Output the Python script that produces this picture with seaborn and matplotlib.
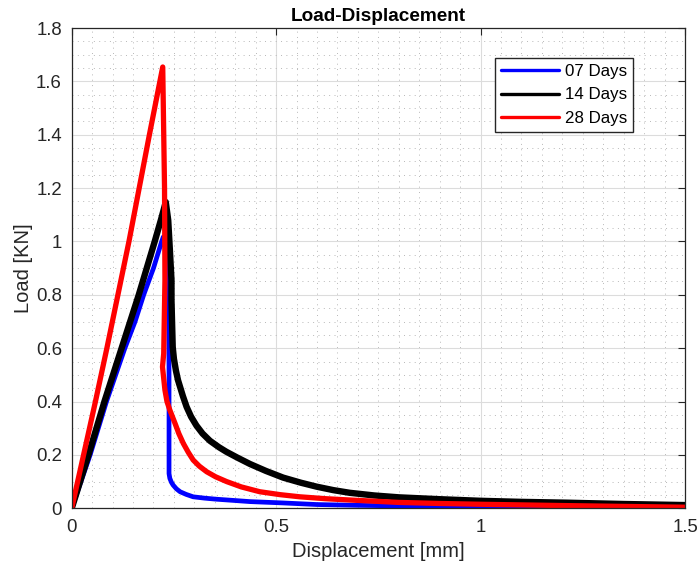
import numpy as np
import pandas as pd
import matplotlib
matplotlib.use("Agg")
import matplotlib.pyplot as plt
from matplotlib.ticker import MultipleLocator, FixedLocator
import seaborn as sns

# ---- data ----
series_names = ["07 Days", "14 Days", "28 Days"]
series_colors = ["#0000FF", "#000000", "#FF0000"]

disp_07 = [0, 0.045, 0.085, 0.13, 0.155, 0.176, 0.2, 0.22, 0.224, 0.232, 0.237, 0.238, 0.238,
           0.24, 0.244, 0.248, 0.256, 0.265, 0.28, 0.297, 0.325, 0.354, 0.4, 0.436, 0.517,
           0.6, 0.7, 0.8, 1.0, 1.2, 1.5]
load_07 = [0, 0.2, 0.4, 0.6, 0.7, 0.8, 0.9, 1.0, 1.017, 0.95, 0.78, 0.5, 0.13,
           0.112, 0.097, 0.087, 0.073, 0.062, 0.052, 0.043, 0.038, 0.034, 0.029, 0.025, 0.02,
           0.014, 0.011, 0.009, 0.006, 0.005, 0.004]

disp_14 = [0, 0.041, 0.08, 0.122, 0.164, 0.203, 0.218, 0.23, 0.236, 0.24, 0.244, 0.244,
           0.247, 0.25, 0.255, 0.26, 0.265, 0.272, 0.281, 0.292, 0.305, 0.32, 0.338, 0.36,
           0.378, 0.405, 0.436, 0.475, 0.517, 0.56, 0.599, 0.64, 0.68, 0.74, 0.8, 0.9,
           1.0, 1.1, 1.21, 1.35, 1.5]
load_14 = [0, 0.2, 0.4, 0.6, 0.8, 1.0, 1.08, 1.148, 1.08, 0.97, 0.855, 0.78,
           0.605, 0.56, 0.515, 0.48, 0.455, 0.42, 0.38, 0.343, 0.31, 0.28, 0.253, 0.229,
           0.212, 0.19, 0.166, 0.14, 0.115, 0.096, 0.081, 0.068, 0.058, 0.048, 0.041, 0.034,
           0.028, 0.024, 0.021, 0.016, 0.012]

disp_28 = [0, 0.029, 0.058, 0.086, 0.113, 0.14, 0.165, 0.19, 0.2226, 0.227, 0.228,
           0.225, 0.222, 0.228, 0.233, 0.24, 0.253, 0.262, 0.273, 0.285, 0.297, 0.312, 0.33,
           0.352, 0.379, 0.415, 0.46, 0.51, 0.558, 0.62, 0.68, 0.8, 0.9, 1.0, 1.21, 1.35, 1.5]
load_28 = [0, 0.2, 0.4, 0.6, 0.8, 1.0, 1.2, 1.4, 1.654, 1.2, 0.855,
           0.58, 0.53, 0.443, 0.4, 0.368, 0.317, 0.28, 0.243, 0.21, 0.181, 0.158, 0.137,
           0.118, 0.1, 0.08, 0.062, 0.051, 0.043, 0.036, 0.031, 0.022, 0.018, 0.015, 0.01, 0.007, 0.004]

x_ticks = [0, 0.5, 1, 1.5]
x_tick_labels = ["0", "0.5", "1", "1.5"]
y_ticks = [0, 0.2, 0.4, 0.6, 0.8, 1.0, 1.2, 1.4, 1.6, 1.8]
y_tick_labels = ["0", "0.2", "0.4", "0.6", "0.8", "1", "1.2", "1.4", "1.6", "1.8"]

# ---- style ----
sns.set_style("white")
plt.rcParams["font.family"] = ["Liberation Sans", "DejaVu Sans"]
axis_col = "#262626"

fig = plt.figure(figsize=(6.99, 5.72), dpi=100)
ax = fig.add_axes([0.1026, 0.1114, 0.8774, 0.8396])

frames = []
for name, xs, ys in zip(series_names, [disp_07, disp_14, disp_28], [load_07, load_14, load_28]):
    frames.append(pd.DataFrame({"Displacement": xs, "Load": ys, "Series": name}))
df = pd.concat(frames, ignore_index=True)

widths = {"07 Days": 3.4, "14 Days": 4.6, "28 Days": 3.8}
for name, col in zip(series_names, series_colors):
    sub = df[df["Series"] == name]
    sns.lineplot(data=sub, x="Displacement", y="Load", sort=False, estimator=None,
                 color=col, linewidth=widths[name], ax=ax, label=name,
                 solid_joinstyle="round", solid_capstyle="round")

ax.set_xlim(0, 1.5)
ax.set_ylim(0, 1.8)
ax.xaxis.set_major_locator(FixedLocator(x_ticks))
ax.set_xticklabels(x_tick_labels)
ax.yaxis.set_major_locator(FixedLocator(y_ticks))
ax.set_yticklabels(y_tick_labels)
ax.xaxis.set_minor_locator(MultipleLocator(0.05))
ax.yaxis.set_minor_locator(MultipleLocator(0.05))

ax.set_axisbelow(True)
ax.grid(which="major", color="#dcdcdc", linewidth=0.8, linestyle="-")
ax.grid(which="minor", color="#b8b8b8", linewidth=0.7, linestyle=(0, (1, 4.5)))

ax.tick_params(which="major", direction="in", length=5, width=0.8, colors=axis_col,
               top=True, right=True, labelsize=13.4)
ax.tick_params(axis="x", which="major", pad=8)
ax.tick_params(axis="y", which="major", pad=7)
ax.tick_params(which="minor", length=0)
for sp in ax.spines.values():
    sp.set_color(axis_col)
    sp.set_linewidth(0.9)
    sp.set_visible(True)

ax.set_xlabel("Displacement [mm]", fontsize=14.5, color=axis_col, labelpad=4)
ax.set_ylabel("Load [KN]", fontsize=14.5, color=axis_col, labelpad=2)
ax.set_title("Load-Displacement", fontsize=13.7, fontweight="bold", color="#000000", pad=5)

leg = ax.legend(loc="upper right", bbox_to_anchor=(0.915, 0.9375), borderaxespad=0,
                fontsize=12.2, frameon=True, fancybox=False, edgecolor="#262626",
                handlelength=3.4, handletextpad=0.35, labelspacing=0.5,
                borderpad=0.35, framealpha=1)
leg.get_frame().set_linewidth(1.0)
for line in leg.get_lines():
    line.set_linewidth(2.4)
for txt in leg.get_texts():
    txt.set_color("#000000")

fig.savefig("out.png", dpi=100)
